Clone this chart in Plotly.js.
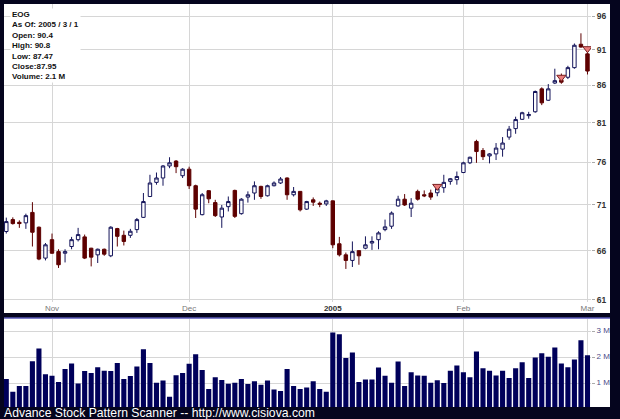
<!DOCTYPE html>
<html><head><meta charset="utf-8">
<script src="https://cdn.plot.ly/plotly-3.0.1.min.js"></script>
<style>html,body{margin:0;padding:0;background:#05051e;}#chart{width:620px;height:419px;}</style>
</head><body><div id="chart"></div><script>
const dates = ['2004-10-21','2004-10-22','2004-10-25','2004-10-26','2004-10-27','2004-10-28','2004-10-29',
'2004-11-01','2004-11-02','2004-11-03','2004-11-04','2004-11-05','2004-11-08','2004-11-09','2004-11-10','2004-11-11','2004-11-12','2004-11-15','2004-11-16','2004-11-17','2004-11-18','2004-11-19','2004-11-22','2004-11-23','2004-11-24','2004-11-26','2004-11-29','2004-11-30',
'2004-12-01','2004-12-02','2004-12-03','2004-12-06','2004-12-07','2004-12-08','2004-12-09','2004-12-10','2004-12-13','2004-12-14','2004-12-15','2004-12-16','2004-12-17','2004-12-20','2004-12-21','2004-12-22','2004-12-23','2004-12-27','2004-12-28','2004-12-29','2004-12-30','2004-12-31',
'2005-01-03','2005-01-04','2005-01-05','2005-01-06','2005-01-07','2005-01-10','2005-01-11','2005-01-12','2005-01-13','2005-01-14','2005-01-18','2005-01-19','2005-01-20','2005-01-21','2005-01-24','2005-01-25','2005-01-26','2005-01-27','2005-01-28','2005-01-31',
'2005-02-01','2005-02-02','2005-02-03','2005-02-04','2005-02-07','2005-02-08','2005-02-09','2005-02-10','2005-02-11','2005-02-14','2005-02-15','2005-02-16','2005-02-17','2005-02-18','2005-02-22','2005-02-23','2005-02-24','2005-02-25','2005-02-28',
'2005-03-01'];

const openP  = [68.05,69.36,69.06,69.00,70.16,68.52,65.22,67.17,65.90,65.73,66.44,67.17,67.47,66.26,65.56,66.15,65.46,68.37,67.64,67.64,68.26,69.61,71.97,73.61,74.13,75.57,76.16,74.40,75.18,73.22,
69.91,72.64,71.27,69.65,70.81,72.67,70.02,71.90,72.37,73.14,72.05,73.22,73.54,74.13,72.17,72.56,70.53,71.59,71.20,71.12,
71.47,66.73,65.56,64.98,66.00,66.26,66.81,67.17,68.26,68.63,70.89,71.66,70.64,72.56,72.17,72.37,72.40,72.99,73.73,73.93,
74.78,75.95,78.59,77.46,76.79,77.04,77.63,79.14,80.22,81.42,81.90,82.41,85.48,83.94,86.28,86.68,87.08,88.43,91.80,90.40];
const highP  = [69.58,69.61,69.28,70.02,71.32,68.60,66.81,67.83,66.15,66.15,67.47,68.45,67.72,66.30,66.22,66.22,68.63,68.45,68.15,68.34,69.54,72.37,74.51,74.78,75.68,76.63,76.29,75.30,75.48,73.34,
72.37,72.70,71.59,71.00,71.97,72.76,71.78,72.56,73.73,73.22,73.34,73.73,74.24,74.20,73.07,72.60,71.47,71.86,71.39,71.59,
71.50,67.47,65.80,66.98,66.05,67.53,67.53,68.08,69.36,70.27,72.05,72.25,71.78,72.76,72.67,72.76,73.20,74.51,74.13,74.90,
76.08,76.70,78.80,77.76,77.13,78.39,79.14,80.56,81.76,82.41,82.40,85.25,85.69,86.14,88.28,87.60,88.69,91.91,93.42,90.80];
const lowP   = [67.83,68.81,68.45,68.34,66.44,65.00,64.98,65.66,64.20,64.77,66.15,66.98,65.12,64.36,64.71,65.46,65.32,66.44,66.55,67.36,67.90,69.54,71.90,73.34,73.22,75.30,74.71,74.13,72.84,69.54,
69.83,71.20,69.65,68.45,70.27,69.54,69.91,71.27,71.59,71.70,71.97,73.14,73.42,71.59,71.97,70.27,70.45,70.89,70.75,70.89,
66.26,65.39,64.10,64.30,64.53,66.15,66.08,66.15,68.08,68.34,70.81,70.89,69.65,71.50,71.90,71.59,72.00,72.40,73.34,73.34,
74.71,75.80,75.95,76.29,75.88,76.29,76.70,78.80,79.56,81.33,81.50,82.28,83.29,83.85,86.14,86.18,86.83,88.28,91.30,87.47];
const closeP = [69.14,68.92,68.92,69.80,67.97,65.12,66.62,65.73,64.53,65.90,67.17,67.72,65.22,65.32,66.15,65.63,68.52,67.53,66.98,68.08,69.36,71.39,73.54,74.13,75.57,75.95,75.48,75.18,73.22,70.53,
72.17,71.70,69.80,70.64,71.39,69.72,71.66,72.17,73.22,71.97,73.22,73.54,74.01,72.17,72.56,70.45,71.39,71.32,71.08,71.47,
66.62,65.56,64.98,65.90,65.46,66.62,66.98,67.90,68.56,70.09,71.66,71.00,71.20,71.66,72.05,71.90,72.90,73.61,74.04,74.31,
75.95,76.63,77.33,76.70,77.04,77.76,78.39,80.15,81.39,82.28,82.05,85.12,83.59,85.48,86.61,86.40,88.43,91.65,91.39,87.95];
const volumeM = [1.18,0.69,0.91,0.91,1.87,2.36,1.37,1.31,1.07,1.57,1.78,1.01,1.49,1.42,1.64,1.50,1.49,1.80,1.18,1.30,1.67,2.33,1.80,1.04,1.13,0.50,1.33,1.42,1.77,2.14,
1.53,0.80,1.25,1.15,1.00,1.04,1.18,0.99,1.10,0.96,1.13,0.78,0.72,1.57,0.91,0.80,0.86,1.10,0.80,0.69,
2.98,2.91,2.00,2.21,1.07,1.17,1.17,1.63,1.31,1.04,1.86,0.91,1.45,1.32,1.31,1.04,1.14,1.03,1.50,1.71,
1.45,1.25,2.25,1.60,1.50,1.32,1.50,1.22,1.60,1.83,1.22,2.01,2.18,2.04,2.40,1.78,1.64,1.94,2.68,2.10];

const signalDates = ['2005-01-26','2005-02-23','2005-03-01'];
const signalPrices = [73.14,87.08,91.15];

const monthTickDates = ['2004-11-01','2004-12-01','2005-01-03','2005-02-01','2005-03-01'];
const monthTickText = ['Nov','Dec','<b><span style="color:#333">2005</span></b>','Feb','Mar'];
const priceTicks = [61,66,71,76,81,86,91,96];
const priceTickText = ['61','66','71','76','81','86','91','96'];
const volTicks = [1,2,3];
const volTickText = ['1 M','2 M','3 M'];

const infoLines = ['EOG','As Of: 2005 / 3 / 1','Open: 90.4','High: 90.8','Low: 87.47','Close:87.95','Volume: 2.1 M'];
const footerText = 'Advance Stock Pattern Scanner -- http://www.cisiova.com';

const W = 620, H = 419;
const px = v => v / W;
const py = v => 1 - v / H;
const FONT = 'Arial, "Liberation Sans", sans-serif';

const traces = [
  {
    type: 'candlestick', x: dates, open: openP, high: highP, low: lowP, close: closeP,
    xaxis: 'x', yaxis: 'y', whiskerwidth: 0,
    increasing: {line: {color: '#14145a', width: 1}, fillcolor: '#ffffff'},
    decreasing: {line: {color: '#5e0000', width: 1}, fillcolor: '#5e0000'},
    hoverinfo: 'skip'
  },
  {
    type: 'scatter', mode: 'markers', x: signalDates, y: signalPrices, xaxis: 'x', yaxis: 'y',
    marker: {symbol: 'triangle-down', size: 8, color: '#ea7c7c', line: {color: '#7a2020', width: 1}},
    hoverinfo: 'skip'
  },
  {
    type: 'bar', x: dates, y: volumeM, xaxis: 'x2', yaxis: 'y2',
    marker: {color: '#00005a', line: {width: 0}}, hoverinfo: 'skip'
  }
];

const xCommon = {
  type: 'category', categoryorder: 'array', categoryarray: dates,
  range: [-0.35, 89.54], domain: [px(4), px(591)],
  showgrid: true, gridcolor: '#d6d6d6', gridwidth: 1,
  tickmode: 'array', tickvals: monthTickDates, ticktext: monthTickText,
  zeroline: false, showline: false, ticks: '',
  rangeslider: {visible: false}, fixedrange: true
};

const layout = {
  width: W, height: H,
  margin: {l: 0, r: 0, t: 0, b: 0},
  paper_bgcolor: '#05051e', plot_bgcolor: '#ffffff',
  showlegend: false, hovermode: false,
  font: {family: FONT},
  boxgap: 0.25, bargap: 0.22,
  xaxis: Object.assign({}, xCommon, {anchor: 'y', tickfont: {size: 8, color: '#777777', family: FONT}}),
  xaxis2: Object.assign({}, xCommon, {anchor: 'y2', matches: 'x', showticklabels: false}),
  yaxis: {
    type: 'log', domain: [py(302), py(4)],
    range: [Math.log10(60.8), Math.log10(97.9)],
    side: 'right', anchor: 'x',
    tickmode: 'array', tickvals: priceTicks, ticktext: priceTickText,
    tickfont: {size: 8.5, color: '#333333', family: FONT, weight: 'bold'},
    ticks: 'outside', ticklen: 3, tickcolor: '#aaaaaa',
    showgrid: true, gridcolor: '#d6d6d6', zeroline: false, showline: false, fixedrange: true
  },
  yaxis2: {
    domain: [py(407), py(318.5)], range: [0.104, 3.52],
    side: 'right', anchor: 'x2',
    tickmode: 'array', tickvals: volTicks, ticktext: volTickText,
    tickfont: {size: 8, color: '#4a4a88', family: FONT},
    ticklabelshift: -2,
    ticks: 'outside', ticklen: 3, tickcolor: '#aaaaaa',
    showgrid: true, gridcolor: '#d6d6d6', zeroline: false, showline: false, fixedrange: true
  },
  shapes: [
    {type: 'rect', xref: 'paper', yref: 'paper', x0: px(4), x1: px(610), y0: py(313), y1: py(4),
     fillcolor: '#ffffff', line: {width: 0}, layer: 'below'},
    {type: 'rect', xref: 'paper', yref: 'paper', x0: px(4), x1: px(610), y0: py(407), y1: py(318),
     fillcolor: '#ffffff', line: {width: 0}, layer: 'below'},
    {type: 'line', xref: 'paper', yref: 'paper', x0: px(4), x1: px(610), y0: py(318), y1: py(318),
     line: {color: '#5858b8', width: 1.5}, layer: 'above'}
  ],
  annotations: [
    {xref: 'paper', yref: 'paper', x: px(10), y: py(8), xanchor: 'left', yanchor: 'top', align: 'left',
     showarrow: false, text: infoLines.join('<br>'), bgcolor: '#ffffff', borderpad: 1,
     font: {size: 8, color: '#111111', family: FONT, weight: 'bold'}},
    {xref: 'paper', yref: 'paper', x: px(2), y: py(413), xanchor: 'left', yanchor: 'middle',
     showarrow: false, text: footerText, font: {size: 12.2, color: '#ffffff', family: FONT}}
  ]
};

Plotly.newPlot('chart', traces, layout, {staticPlot: true, displayModeBar: false});
</script></body></html>
